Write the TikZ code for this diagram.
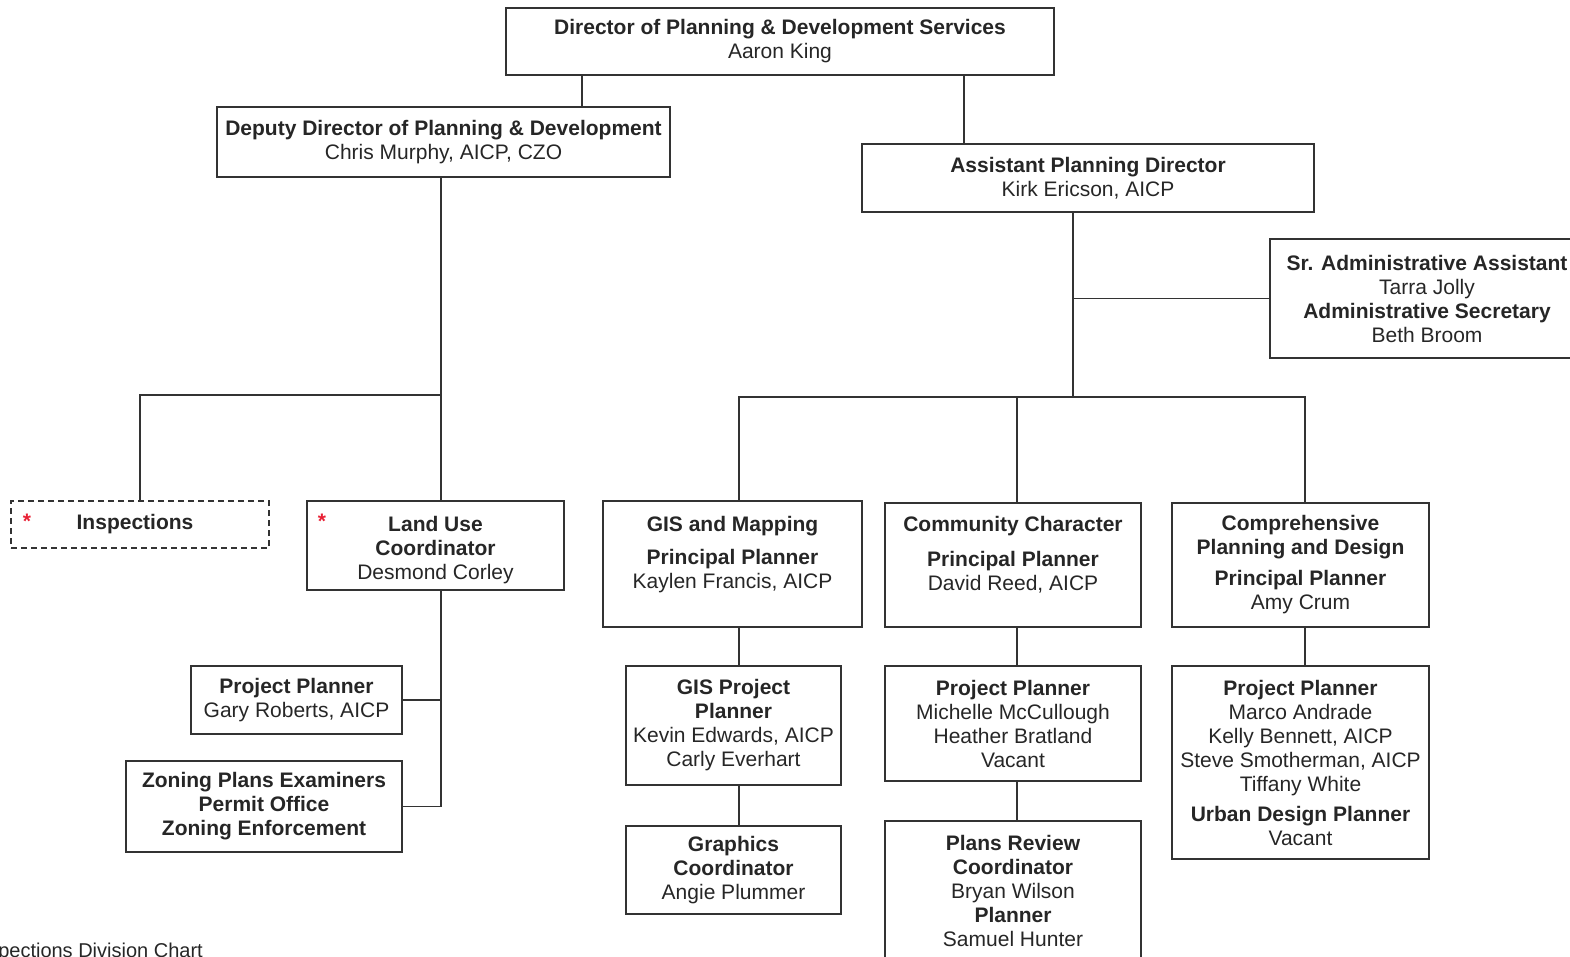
\documentclass[tikz,border=0pt]{standalone}
\usepackage{fontspec}
\setmainfont{Liberation Sans}
\usepackage{tikz}
\usetikzlibrary{calc,positioning}
\definecolor{starred}{RGB}{232,32,52}
\tikzstyle{post}=[
  draw=black!80,
  font={\fontsize{21}{24}\selectfont},
  text=black!85,
  inner sep=0pt,
  outer sep=0pt,
  rectangle,
  align=center,
  line width=1.3pt,
]
\tikzstyle{link}=[
  draw=black!80,
  line width=1.3pt,
]
\tikzstyle{asterisk}=[
  color=starred,
  font={\fontsize{21}{24}\selectfont\bfseries},
  inner sep=0pt,
]
\tikzset{
  x=1pt,
  y=-1pt,
}

\begin{document}
\begin{tikzpicture}
      \useasboundingbox (0,0) rectangle (1570,957);
      \clip (0,0) rectangle (1570,957);
      %% top levels
      \node (director) [post, minimum width=548pt, minimum height=67pt] at (780,41.5)
        {\textbf{Director of Planning \& Development Services}\\Aaron King};
      \node (deputy) [post, minimum width=453pt, minimum height=70pt] at (443.5,142)
        {\textbf{Deputy Director of Planning \& Development}\\Chris Murphy, AICP, CZO};
      \node (asst) [post, minimum width=452pt, minimum height=68pt] at (1088,178)
        {\textbf{Assistant Planning Director}\\Kirk Ericson, AICP};
      \node (admin) [post, minimum width=314pt, minimum height=119pt] at (1427,298.5)
        {\textbf{Sr. Administrative Assistant}\\Tarra Jolly\\\textbf{Administrative Secretary}\\Beth Broom};
      %% left branch
      \node (inspections) [post, dashed, dash pattern=on 6pt off 4pt, minimum width=258pt, minimum height=47pt] at (140,524.5)
        {\textbf{Inspections}\hspace*{10pt}};
      \node (landuse) [post, minimum width=257pt, minimum height=89pt] at (435.5,545.5)
        {\mbox{}\\[1pt]\textbf{Land Use}\\\textbf{Coordinator}\\Desmond Corley};
      \node (inspstar) [asterisk] at (27,521) {*};
      \node (landstar) [asterisk] at (322,521) {*};
      \node (planL) [post, minimum width=211pt, minimum height=68pt] at (296.5,700)
        {\textbf{Project Planner}\\Gary Roberts, AICP};
      \node (zoning) [post, minimum width=276pt, minimum height=91pt] at (264,806.5)
        {\textbf{Zoning Plans Examiners}\\\textbf{Permit Office}\\\textbf{Zoning Enforcement}};
      %% right branch
      \node (gis) [post, minimum width=259pt, minimum height=126pt] at (732.5,564)
        {\textbf{GIS and Mapping}\\[9pt]\textbf{Principal Planner}\\Kaylen Francis, AICP\\\mbox{}};
      \node (community) [post, minimum width=256pt, minimum height=124pt] at (1013,565)
        {\textbf{Community Character}\\[11pt]\textbf{Principal Planner}\\David Reed, AICP\\\mbox{}};
      \node (comp) [post, minimum width=257pt, minimum height=124pt] at (1300.5,565)
        {\textbf{Comprehensive}\\\textbf{Planning and Design}\\[7pt]\textbf{Principal Planner}\\Amy Crum};
      \node (gisproj) [post, minimum width=215pt, minimum height=119pt] at (733.5,725.5)
        {\textbf{GIS Project}\\\textbf{Planner}\\Kevin Edwards, AICP\\Carly Everhart};
      \node (ccproj) [post, minimum width=256pt, minimum height=115pt] at (1013,723.5)
        {\textbf{Project Planner}\\Michelle McCullough\\Heather Bratland\\Vacant};
      \node (compproj) [post, minimum width=257pt, minimum height=193pt] at (1300.5,762.5)
        {\textbf{Project Planner}\\Marco Andrade\\Kelly Bennett, AICP\\Steve Smotherman, AICP\\Tiffany White\\[6pt]\textbf{Urban Design Planner}\\Vacant};
      \node (graphics) [post, minimum width=215pt, minimum height=88pt] at (733.5,870)
        {\textbf{Graphics}\\\textbf{Coordinator}\\Angie Plummer};
      \node (review) [post, minimum width=256pt, minimum height=139pt] at (1013,890.5)
        {\textbf{Plans Review}\\\textbf{Coordinator}\\Bryan Wilson\\\textbf{Planner}\\Samuel Hunter};
      \node (caption) [anchor=base east, font={\fontsize{20}{24}\selectfont}, text=black!85, inner sep=0pt] at (203,957)
        {Inspections Division Chart};
      %% junctions
      \coordinate (spineL) at (441,395);
      \coordinate (spineR) at (1073,397);
      %%
      \draw [link] (director.south -| 582,0) -- (deputy.north -| 582,0);
      \draw [link] (director.south -| 964,0) -- (asst.north -| 964,0);
      \draw [link] (deputy.south -| spineL) -- (landuse.north -| spineL);
      \draw [link] (inspections.north) |- (spineL);
      \draw [link] (landuse.south -| spineL) -- (zoning.east -| spineL);
      \draw [link] (planL.east) -- (planL.east -| spineL);
      \draw [link] (zoning.east) -- (zoning.east -| spineL);
      \draw [link] (asst.south -| spineR) -- (spineR);
      \draw [link] (admin.west) -- (admin.west -| spineR);
      \draw [link] ([xshift=6.5pt]gis.north) |- ([xshift=4.5pt]comp.north |- spineR) -- ([xshift=4.5pt]comp.north);
      \draw [link] ([xshift=4pt]community.north |- spineR) -- ([xshift=4pt]community.north);
      \draw [link] ([xshift=6.5pt]gis.south) -- ([xshift=5.5pt]gisproj.north);
      \draw [link] ([xshift=5.5pt]gisproj.south) -- ([xshift=5.5pt]graphics.north);
      \draw [link] ([xshift=4pt]community.south) -- ([xshift=4pt]ccproj.north);
      \draw [link] ([xshift=4pt]ccproj.south) -- ([xshift=4pt]review.north);
      \draw [link] ([xshift=4.5pt]comp.south) -- ([xshift=4.5pt]compproj.north);
    \end{tikzpicture}
\end{document}
